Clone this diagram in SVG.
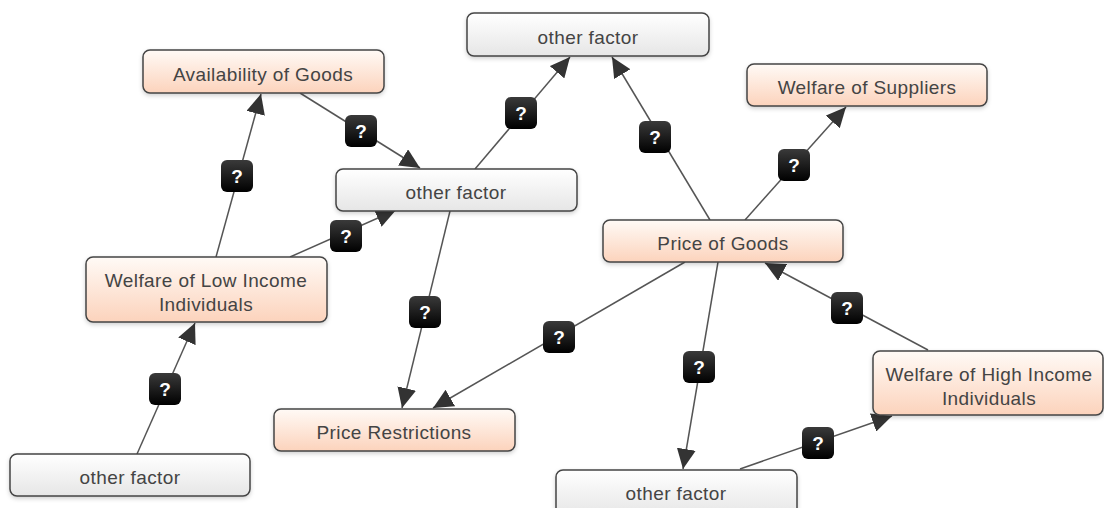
<svg xmlns="http://www.w3.org/2000/svg" width="1104" height="508" viewBox="0 0 1104 508">
<defs>
<linearGradient id="gOrange" x1="0" y1="0" x2="0" y2="1">
<stop offset="0" stop-color="#fffaf6"/>
<stop offset="1" stop-color="#fcd3bc"/>
</linearGradient>
<linearGradient id="gGray" x1="0" y1="0" x2="0" y2="1">
<stop offset="0" stop-color="#ffffff"/>
<stop offset="1" stop-color="#e6e6e6"/>
</linearGradient>
<linearGradient id="gLabel" x1="0" y1="0" x2="0" y2="1">
<stop offset="0" stop-color="#3a3a3a"/>
<stop offset="1" stop-color="#000000"/>
</linearGradient>
<filter id="shadow" x="-10%" y="-20%" width="120%" height="150%">
<feDropShadow dx="0" dy="2" stdDeviation="2" flood-color="#000" flood-opacity="0.18"/>
</filter>
<marker id="arrow" markerUnits="userSpaceOnUse" markerWidth="21" markerHeight="19" refX="20" refY="9.5" orient="auto">
<path d="M0,0 L20,9.5 L0,19 z" fill="#333"/>
</marker>
</defs>
<style>
.node rect{stroke:#444;stroke-width:1.5;filter:url(#shadow)}
.orange rect{fill:url(#gOrange)}
.gray rect{fill:url(#gGray)}
.node text{font-family:"Liberation Sans",Arial,sans-serif;font-size:19px;letter-spacing:0.4px;fill:#444;text-anchor:middle}
.edge{stroke:#555;stroke-width:1.5;fill:none;marker-end:url(#arrow)}
.lbl rect{fill:url(#gLabel)}
.lbl text{font-family:"Liberation Sans",Arial,sans-serif;font-size:19px;font-weight:bold;fill:#fff;text-anchor:middle}
</style>
<g id="connectors">
<line class="edge" x1="216" y1="257" x2="261" y2="94"/>
<line class="edge" x1="300" y1="93" x2="420" y2="168"/>
<line class="edge" x1="290" y1="257" x2="396" y2="210"/>
<line class="edge" x1="475" y1="169" x2="570" y2="57"/>
<line class="edge" x1="710" y1="220" x2="612" y2="57"/>
<line class="edge" x1="745" y1="220" x2="846" y2="107"/>
<line class="edge" x1="450" y1="211" x2="402" y2="408"/>
<line class="edge" x1="685" y1="262" x2="433" y2="408"/>
<line class="edge" x1="718" y1="262" x2="683" y2="469"/>
<line class="edge" x1="928" y1="350" x2="765" y2="263"/>
<line class="edge" x1="137" y1="454" x2="195" y2="323"/>
<line class="edge" x1="740" y1="469" x2="892" y2="416"/>
</g>
<g id="edge-labels">
<g class="lbl"><rect x="221" y="160" width="32" height="32" rx="6"/><text x="237" y="183">?</text></g>
<g class="lbl"><rect x="345" y="115" width="32" height="32" rx="6"/><text x="361" y="138">?</text></g>
<g class="lbl"><rect x="330" y="220" width="32" height="32" rx="6"/><text x="346" y="243">?</text></g>
<g class="lbl"><rect x="505" y="97" width="32" height="32" rx="6"/><text x="521" y="120">?</text></g>
<g class="lbl"><rect x="639" y="121" width="32" height="32" rx="6"/><text x="655" y="144">?</text></g>
<g class="lbl"><rect x="778" y="149" width="32" height="32" rx="6"/><text x="794" y="172">?</text></g>
<g class="lbl"><rect x="409" y="296" width="32" height="32" rx="6"/><text x="425" y="319">?</text></g>
<g class="lbl"><rect x="543" y="321" width="32" height="32" rx="6"/><text x="559" y="344">?</text></g>
<g class="lbl"><rect x="683" y="351" width="32" height="32" rx="6"/><text x="699" y="374">?</text></g>
<g class="lbl"><rect x="831" y="292" width="32" height="32" rx="6"/><text x="847" y="315">?</text></g>
<g class="lbl"><rect x="149" y="373" width="32" height="32" rx="6"/><text x="165" y="396">?</text></g>
<g class="lbl"><rect x="802" y="427" width="32" height="32" rx="6"/><text x="818" y="450">?</text></g>
</g>
<g id="node-availability" class="node orange"><rect x="143" y="50" width="241" height="43" rx="7"/><text x="263" y="81">Availability of Goods</text></g>
<g id="node-other-top" class="node gray"><rect x="467" y="13" width="242" height="43" rx="7"/><text x="588" y="44">other factor</text></g>
<g id="node-suppliers" class="node orange"><rect x="747" y="64" width="240" height="42" rx="7"/><text x="867" y="94">Welfare of Suppliers</text></g>
<g id="node-other-mid" class="node gray"><rect x="336" y="169" width="241" height="42" rx="7"/><text x="456" y="199">other factor</text></g>
<g id="node-price" class="node orange"><rect x="603" y="220" width="240" height="42" rx="7"/><text x="723" y="250">Price of Goods</text></g>
<g id="node-low-income" class="node orange"><rect x="86" y="257" width="241" height="65" rx="7"/><text x="206" y="287">Welfare of Low Income</text><text x="206" y="311">Individuals</text></g>
<g id="node-restrictions" class="node orange"><rect x="274" y="409" width="241" height="42" rx="7"/><text x="394" y="439">Price Restrictions</text></g>
<g id="node-high-income" class="node orange"><rect x="873" y="351" width="230" height="64" rx="7"/><text x="989" y="381">Welfare of High Income</text><text x="989" y="405">Individuals</text></g>
<g id="node-other-bl" class="node gray"><rect x="10" y="454" width="240" height="42" rx="7"/><text x="130" y="484">other factor</text></g>
<g id="node-other-bottom" class="node gray"><rect x="556" y="470" width="241" height="46" rx="7"/><text x="676" y="500">other factor</text></g>
</svg>
